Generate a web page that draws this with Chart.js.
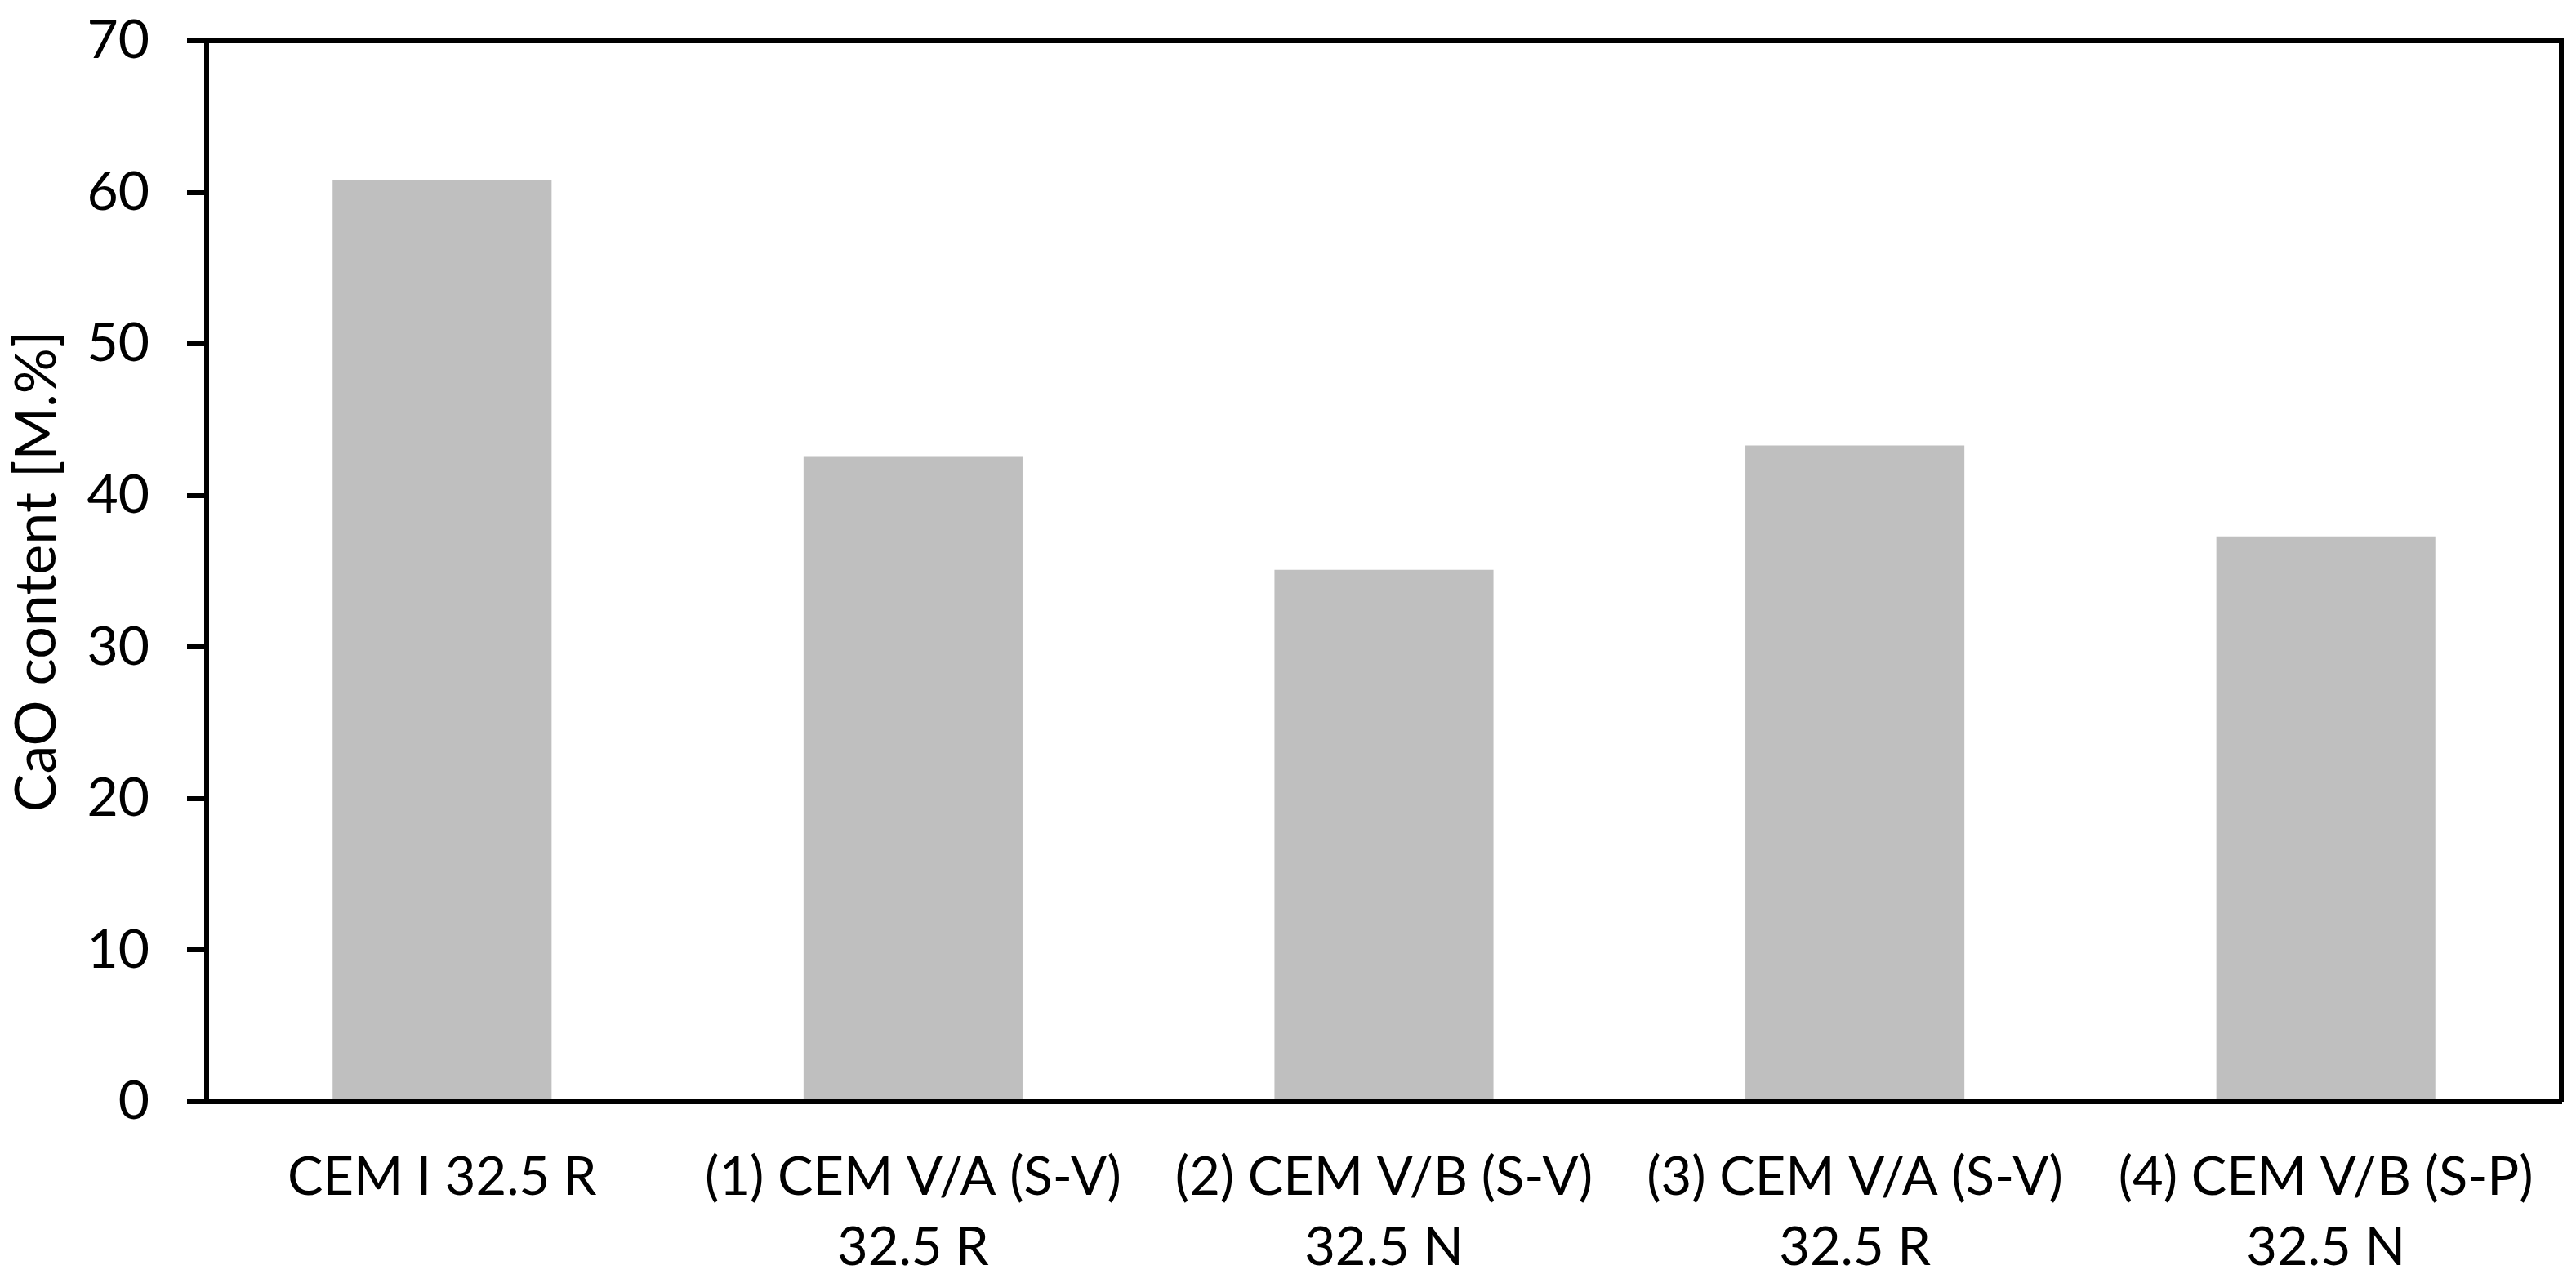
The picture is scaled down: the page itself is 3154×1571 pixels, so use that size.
<!DOCTYPE html>
<html>
<head>
<meta charset="utf-8">
<script src="https://cdn.jsdelivr.net/npm/chart.js@4"></script>
<style>
  html, body { margin: 0; padding: 0; background: #fff; }
  #wrap { width: 3154px; height: 1571px; }
</style>
</head>
<body>
<div id="wrap"><canvas id="caoChart"></canvas></div>
<script>
const categories = [
    ['CEM I 32.5 R'],
    ['(1) CEM V/A (S-V)', '32.5 R'],
    ['(2) CEM V/B (S-V)', '32.5 N'],
    ['(3) CEM V/A (S-V)', '32.5 R'],
    ['(4) CEM V/B (S-P)', '32.5 N']
];
const caoValues = [60.8, 42.6, 35.1, 43.3, 37.3];
const yTicks = [0, 10, 20, 30, 40, 50, 60, 70];

const FONT = 'Lato, "Open Sans", sans-serif';

// draws the top and right edges of the box (left/bottom come from the axes)
const framePlugin = {
    id: 'frame',
    afterDraw(chart) {
        const { ctx, chartArea: a } = chart;
        ctx.save();
        ctx.strokeStyle = '#000';
        ctx.lineWidth = 6;
        ctx.beginPath();
        ctx.moveTo(a.left, a.top);
        ctx.lineTo(a.right, a.top);
        ctx.lineTo(a.right, a.bottom);
        ctx.stroke();
        ctx.restore();
    }
};

const ctx = document.getElementById('caoChart').getContext('2d');
new Chart(ctx, {
    type: 'bar',
    data: {
        labels: categories,
        datasets: [{
            label: 'CaO content',
            data: caoValues,
            backgroundColor: '#bfbfbf',
            borderWidth: 0,
            barPercentage: 0.465,
            categoryPercentage: 1
        }]
    },
    options: {
        responsive: true,
        maintainAspectRatio: false,
        animation: false,
        layout: { padding: { top: 50, right: 18, left: 0, bottom: 0 } },
        plugins: {
            legend: { display: false },
            tooltip: { enabled: false }
        },
        scales: {
            x: {
                grid: { display: false, drawTicks: false },
                border: { display: true, color: '#000', width: 6 },
                ticks: {
                    color: '#000',
                    padding: 50,
                    maxRotation: 0,
                    autoSkip: false,
                    font: { family: FONT, size: 65, lineHeight: 1.32 }
                },
                afterFit: s => { s.height = 222; }
            },
            y: {
                min: 0,
                max: 70,
                afterBuildTicks: s => { s.ticks = yTicks.map(v => ({ value: v })); },
                grid: {
                    drawOnChartArea: false,
                    drawTicks: true,
                    tickLength: 24,
                    tickWidth: 6,
                    tickColor: '#000',
                    lineWidth: 6,
                    color: '#000'
                },
                border: { display: true, color: '#000', width: 6 },
                ticks: {
                    color: '#000',
                    padding: 46,
                    font: { family: FONT, size: 66 }
                },
                title: {
                    display: true,
                    text: 'CaO content [M.%]',
                    color: '#000',
                    padding: { top: 3, bottom: 0 },
                    font: { family: FONT, size: 70 }
                },
                afterFit: s => {
                    s.width = 253;
                    s.paddingTop = 0;
                    s.paddingBottom = 0;
                }
            }
        }
    },
    plugins: [framePlugin]
});
</script>
</body>
</html>
